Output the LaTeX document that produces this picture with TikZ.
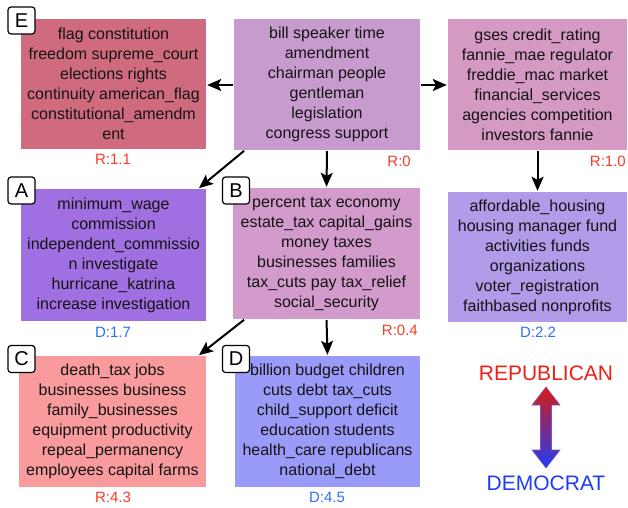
\documentclass[tikz,border=0pt]{standalone}
\usepackage{fontspec}
\setmainfont{Liberation Sans}
\usetikzlibrary{arrows.meta}
\definecolor{cE}{HTML}{D06B7F}
\definecolor{cTop}{HTML}{C89BCF}
\definecolor{cTR}{HTML}{D59AC4}
\definecolor{cA}{HTML}{A06FE2}
\definecolor{cB}{HTML}{D29BCB}
\definecolor{cRM}{HTML}{B29BE8}
\definecolor{cC}{HTML}{F99A9D}
\definecolor{cD}{HTML}{9A9BF9}
\definecolor{rlab}{HTML}{F53C28}
\definecolor{dlab}{HTML}{2E6EF5}
\definecolor{repc}{HTML}{F01E14}
\definecolor{democ}{HTML}{1E3CF5}
\definecolor{txt}{HTML}{141414}
\tikzset{
  topicbox/.style={rectangle, inner sep=0pt, align=center, text=txt,
    font=\fontsize{16}{20}\selectfont},
  letterbox/.style={rectangle, rounded corners=3pt, draw=black, line width=1.2pt,
    fill=white, minimum width=27pt, minimum height=27pt, inner sep=0pt,
    font=\fontsize{20}{20}\selectfont},
  rlabel/.style={text=rlab, font=\fontsize{15}{15}\selectfont, inner sep=0pt},
  dlabel/.style={text=dlab, font=\fontsize{15}{15}\selectfont, inner sep=0pt},
  conn/.style={line width=2pt, -{Stealth[length=14pt,width=12pt,inset=3pt]},
    shorten <=1pt, shorten >=1pt},
}
\begin{document}
\begin{tikzpicture}[x=1pt,y=-1pt]
\useasboundingbox (0,0) rectangle (628,507);

% boxes
\node[topicbox, fill=cE, minimum width=185pt, minimum height=130pt] (E) at (113.5,84)
  {flag constitution\\freedom supreme\_court\\elections rights\\continuity american\_flag\\constitutional\_amendm\\ent};
\node[topicbox, fill=cTop, minimum width=186pt, minimum height=131pt] (top) at (327,84.5)
  {bill speaker time\\amendment\\chairman people\\gentleman\\legislation\\congress support};
\node[topicbox, fill=cTR, minimum width=179pt, minimum height=131pt] (tr) at (537.5,84.5)
  {gses credit\_rating\\fannie\_mae regulator\\freddie\_mac market\\financial\_services\\agencies competition\\investors fannie};
\node[topicbox, fill=cA, minimum width=185pt, minimum height=132pt] (A) at (113.5,255)
  {minimum\_wage\\commission\\independent\_commissio\\n investigate\\hurricane\_katrina\\increase investigation};
\node[topicbox, fill=cB, minimum width=187pt, minimum height=131pt] (B) at (326.5,253.5)
  {percent tax economy\\estate\_tax capital\_gains\\money taxes\\businesses families\\tax\_cuts pay tax\_relief\\social\_security};
\node[topicbox, fill=cRM, minimum width=179pt, minimum height=130pt] (rm) at (537.5,257)
  {affordable\_housing\\housing manager fund\\activities funds\\organizations\\voter\_registration\\faithbased nonprofits};
\node[topicbox, fill=cC, minimum width=187pt, minimum height=131pt] (C) at (112.5,421.5)
  {death\_tax jobs\\businesses business\\family\_businesses\\equipment productivity\\repeal\_permanency\\employees capital farms};
\node[topicbox, fill=cD, minimum width=185pt, minimum height=131pt] (D) at (327.5,421.5)
  {billion budget children\\cuts debt tax\_cuts\\child\_support deficit\\education students\\health\_care republicans\\national\_debt};

% letter tags
\node[letterbox] (tagE) at (21.5,20.5) {E};
\node[letterbox] (tagA) at (21.5,190.5) {A};
\node[letterbox] (tagB) at (236,190.5) {B};
\node[letterbox] (tagC) at (21.5,359) {C};
\node[letterbox] (tagD) at (236,359) {D};

% score labels
\node[rlabel] (lE) at (113,159) {R:1.1};
\node[rlabel, anchor=east] (lTop) at (411,161) {R:0};
\node[rlabel, anchor=east] (lTR) at (626,161) {R:1.0};
\node[dlabel] (lA) at (113,332) {D:1.7};
\node[rlabel, anchor=east] (lB) at (418,330) {R:0.4};
\node[dlabel] (lRM) at (538,332) {D:2.2};
\node[rlabel] (lC) at (113,497) {R:4.3};
\node[dlabel] (lD) at (327,497) {D:4.5};

% connectors
\draw[conn] (top.west |- 0,85) -- (E.east |- 0,85);
\draw[conn] (top.east |- 0,85) -- (tr.west |- 0,85);
\draw[conn] (top.south) -- (B.north);
\draw[conn] (tr.south) -- (rm.north);
\draw[conn] ([xshift=11pt]top.south west) -- ([xshift=-8pt]A.north east);
\draw[conn] ([xshift=12pt]B.south west) -- ([xshift=-8pt]C.north east);
\draw[conn] (B.south) -- (D.north);

% legend
\node[text=repc, font=\fontsize{21}{21}\selectfont, inner sep=0pt] (rep) at (546,373) {REPUBLICAN};
\node[text=democ, font=\fontsize{21}{21}\selectfont, inner sep=0pt] (dem) at (546,483) {DEMOCRAT};
\shade[top color=repc!90!black, bottom color=democ, draw=democ!70!red!80, line width=0.6pt]
  (546,387) -- (532,405) -- (540.5,405) -- (540.5,450) -- (532,450) -- (546,468)
  -- (560,450) -- (551.5,450) -- (551.5,405) -- (560,405) -- cycle;
\end{tikzpicture}
\end{document}
